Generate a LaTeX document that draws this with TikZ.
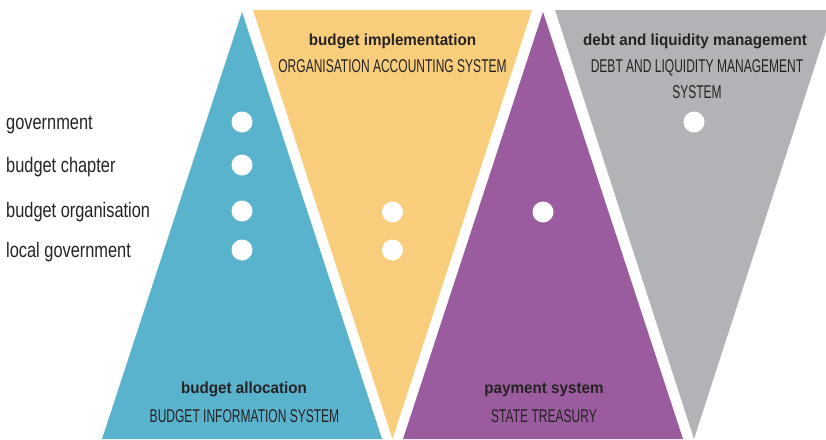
\documentclass[tikz,border=0pt]{standalone}
\usepackage{fontspec}
\setmainfont{Liberation Sans}
\newfontfamily\labfont[FakeStretch=0.78]{Liberation Sans}
\newfontfamily\capfont[FakeStretch=0.65]{Liberation Sans}
\newfontfamily\headfont[FakeStretch=0.95]{Liberation Sans}
\definecolor{triblue}{HTML}{5AB3CC}
\definecolor{triyellow}{HTML}{F8CD7B}
\definecolor{tripurple}{HTML}{9A5C9E}
\definecolor{trigray}{HTML}{B2B3B6}
\definecolor{txt}{HTML}{262324}
\tikzset{
  dot/.style={circle,fill=white,minimum size=21pt,inner sep=0pt},
  sidelab/.style={anchor=base west,inner sep=0pt,text=txt,font=\labfont\fontsize{21pt}{21pt}\selectfont},
  head/.style={anchor=base,inner sep=0pt,text=txt,font=\headfont\bfseries\fontsize{16pt}{16pt}\selectfont},
  sys/.style={anchor=base,inner sep=0pt,text=txt,font=\capfont\fontsize{18.5pt}{18.5pt}\selectfont},
}
\begin{document}
\begin{tikzpicture}[x=1pt,y=-1pt]
\useasboundingbox (0,0) rectangle (826,439);
\begin{scope}
\clip (0,0) rectangle (826,439);
\fill[triblue] (242,12) -- (102,439) -- (382,439) -- cycle;
\fill[triyellow] (253,10) -- (532,10) -- (392.5,439) -- cycle;
\fill[tripurple] (543,12) -- (403,439) -- (683,439) -- cycle;
\fill[trigray] (555,10) -- (833,10) -- (694,439) -- cycle;
\end{scope}
% dots
\node[dot] (b1) at (242,122) {};
\node[dot] (b2) at (242,165) {};
\node[dot] (b3) at (242,211) {};
\node[dot] (b4) at (242,250) {};
\node[dot] (y1) at (392.5,212) {};
\node[dot] (y2) at (392.5,250) {};
\node[dot] (p1) at (543,212) {};
\node[dot] (g1) at (694,122) {};
% side labels
\node[sidelab] (l1) at (6,129) {government};
\node[sidelab] (l2) at (6,172) {budget chapter};
\node[sidelab] (l3) at (6,217) {budget organisation};
\node[sidelab] (l4) at (6,257) {local government};
% yellow
\node[head] (yh) at (392.5,45) {budget implementation};
\node[sys] (ys) at (392.5,72) {ORGANISATION ACCOUNTING SYSTEM};
% gray
\node[head] (gh) at (695,45) {debt and liquidity management};
\node[sys] (gs1) at (697,72) {DEBT AND LIQUIDITY MANAGEMENT};
\node[sys] (gs2) at (697,98) {SYSTEM};
% blue
\node[head] (bh) at (244,393) {budget allocation};
\node[sys] (bs) at (244.5,422) {BUDGET INFORMATION SYSTEM};
% purple
\node[head] (ph) at (544,393) {payment system};
\node[sys] (ps) at (544,422) {STATE TREASURY};
\end{tikzpicture}
\end{document}
